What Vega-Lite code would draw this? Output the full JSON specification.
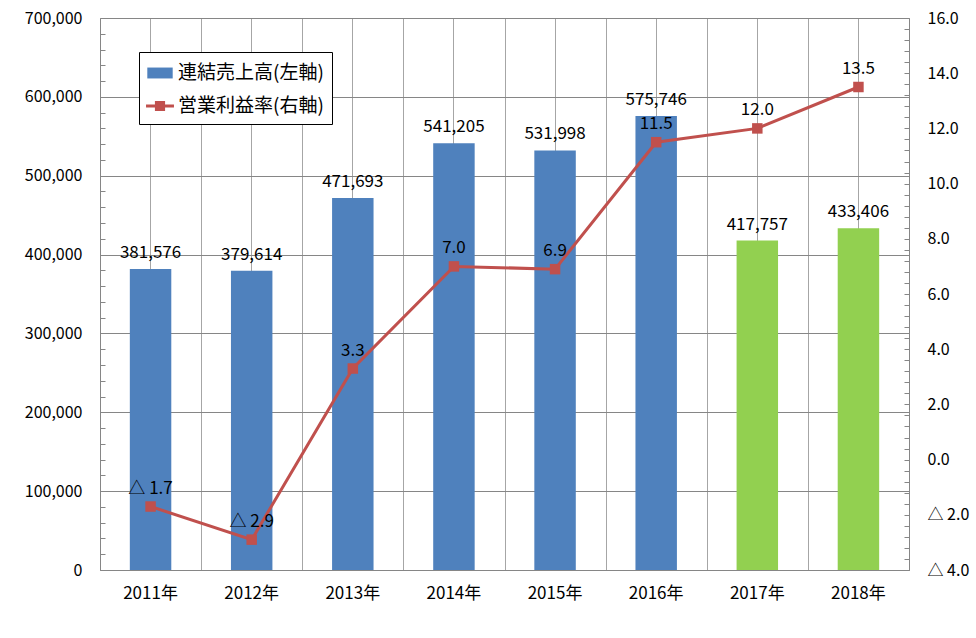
{
  "$schema": "https://vega.github.io/schema/vega-lite/v6.json",
  "autosize": "none",
  "padding": {"left": 100, "top": 18, "right": 67, "bottom": 68},
  "width": 809,
  "height": 552,
  "background": "white",
  "config": {
    "font": "Noto Sans CJK JP",
    "view": {"stroke": null},
    "axis": {"labelFont": "Noto Sans CJK JP", "labelColor": "black", "labelFontSize": 16, "domainColor": "#868686", "tickColor": "#868686", "title": null}
  },
  "data": {
    "values": [
      {"year": "2011年", "sales": 381576, "margin": -1.7, "marginText": "△ 1.7", "kind": "連結売上高(左軸)"},
      {"year": "2012年", "sales": 379614, "margin": -2.9, "marginText": "△ 2.9", "kind": "連結売上高(左軸)"},
      {"year": "2013年", "sales": 471693, "margin": 3.3, "marginText": "3.3", "kind": "連結売上高(左軸)"},
      {"year": "2014年", "sales": 541205, "margin": 7.0, "marginText": "7.0", "kind": "連結売上高(左軸)"},
      {"year": "2015年", "sales": 531998, "margin": 6.9, "marginText": "6.9", "kind": "連結売上高(左軸)"},
      {"year": "2016年", "sales": 575746, "margin": 11.5, "marginText": "11.5", "kind": "連結売上高(左軸)"},
      {"year": "2017年", "sales": 417757, "margin": 12.0, "marginText": "12.0", "kind": "予想"},
      {"year": "2018年", "sales": 433406, "margin": 13.5, "marginText": "13.5", "kind": "予想"}
    ]
  },
  "encoding": {
    "x": {"field": "year", "type": "nominal", "scale": {"type": "band", "paddingInner": 0, "paddingOuter": 0}}
  },
  "layer": [
    {
      "encoding": {
        "x": {"field": "year", "type": "nominal", "axis": {"orient": "bottom", "grid": true, "tickBand": "extent", "gridColor": "#A6A6A6", "labels": false, "ticks": false, "domain": false}},
        "y": {
          "field": "sales", "type": "quantitative",
          "scale": {"domain": [0, 700000], "nice": false},
          "axis": {
            "values": [0, 20000, 40000, 60000, 80000, 100000, 120000, 140000, 160000, 180000, 200000, 220000, 240000, 260000, 280000, 300000, 320000, 340000, 360000, 380000, 400000, 420000, 440000, 460000, 480000, 500000, 520000, 540000, 560000, 580000, 600000, 620000, 640000, 660000, 680000, 700000],
            "labelExpr": "datum.value % 100000 === 0 ? format(datum.value, ',') : ''",
            "grid": true,
            "gridColor": "#868686",
            "gridOpacity": {"condition": {"test": "datum.value % 100000 === 0", "value": 1}, "value": 0},
            "tickSize": -5,
            "labelPadding": 23,
            "domain": true
          }
        }
      },
      "layer": [
        {
          "mark": {"type": "bar", "width": {"band": 0.41}},
          "encoding": {
            "color": {
              "field": "kind", "type": "nominal",
              "scale": {"domain": ["連結売上高(左軸)", "営業利益率(右軸)", "予想"], "range": ["#4F81BD", "#C0504D", "#92D050"]},
              "legend": {
                "values": ["連結売上高(左軸)", "営業利益率(右軸)"],
                "title": null,
                "orient": "none",
                "legendX": 39,
                "legendY": 34,
                "direction": "vertical",
                "strokeColor": "black",
                "fillColor": "white",
                "padding": 8,
                "rowPadding": 10,
                "symbolSize": 645,
                "labelFont": "Noto Sans CJK JP",
                "labelFontSize": 19,
                "labelColor": "black",
                "labelOffset": 5,
                "labelLimit": 400,
                "encode": {
                  "symbols": {
                    "update": {
                      "shape": {"signal": "datum.value === '連結売上高(左軸)' ? 'M-1,-0.43H1V0.43H-1Z' : 'M-1.1,-0.12H1.1V0.12H-1.1Z M-0.4,-0.4H0.4V0.4H-0.4Z'"},
                      "fill": {"signal": "datum.value === '連結売上高(左軸)' ? '#4F81BD' : '#C0504D'"},
                      "stroke": {"value": "transparent"},
                      "strokeWidth": {"value": 0},
                      "opacity": {"value": 1},
                      "fillOpacity": {"value": 1},
                      "size": {"value": 645}
                    }
                  }
                }
              }
            }
          }
        },
        {
          "mark": {"type": "text", "baseline": "bottom", "dy": -7, "fontSize": 17, "font": "Noto Sans CJK JP", "color": "black"},
          "encoding": {
            "text": {"field": "sales", "type": "quantitative", "format": ","}
          }
        }
      ]
    },
    {
      "encoding": {
        "x": {"field": "year", "type": "nominal", "axis": {"orient": "bottom", "grid": true, "tickBand": "center", "gridColor": "#A6A6A6", "tickSize": -5, "labelPadding": 20, "labelFontSize": 17, "labelAngle": 0, "domain": true}},
        "y": {
          "field": "margin", "type": "quantitative",
          "scale": {"domain": [-4, 16], "nice": false, "zero": false},
          "axis": {
            "orient": "right",
            "values": [-4, -3.6, -3.2, -2.8, -2.4, -2, -1.6, -1.2, -0.8, -0.4, 0, 0.4, 0.8, 1.2, 1.6, 2, 2.4, 2.8, 3.2, 3.6, 4, 4.4, 4.8, 5.2, 5.6, 6, 6.4, 6.8, 7.2, 7.6, 8, 8.4, 8.8, 9.2, 9.6, 10, 10.4, 10.8, 11.2, 11.6, 12, 12.4, 12.8, 13.2, 13.6, 14, 14.4, 14.8, 15.2, 15.6, 16],
            "labelExpr": "round(abs(datum.value) * 10) % 20 === 0 ? (datum.value < 0 ? '△ ' + format(-datum.value, '.1f') : format(datum.value, '.1f')) : ''",
            "grid": false,
            "tickSize": -5,
            "labelPadding": 23,
            "domain": true
          }
        }
      },
      "layer": [
        {
          "mark": {"type": "line", "strokeWidth": 3},
          "encoding": {
            "color": {"datum": "営業利益率(右軸)"}
          }
        },
        {
          "mark": {"type": "point", "shape": "square", "filled": true, "size": 110, "opacity": 1},
          "encoding": {
            "color": {"datum": "営業利益率(右軸)"}
          }
        },
        {
          "mark": {"type": "text", "baseline": "bottom", "dy": -9, "fontSize": 17, "font": "Noto Sans CJK JP", "color": "black"},
          "encoding": {
            "text": {"field": "marginText", "type": "nominal"}
          }
        }
      ]
    }
  ],
  "resolve": {
    "scale": {"y": "independent"},
    "axis": {"y": "independent", "x": "independent"}
  }
}
